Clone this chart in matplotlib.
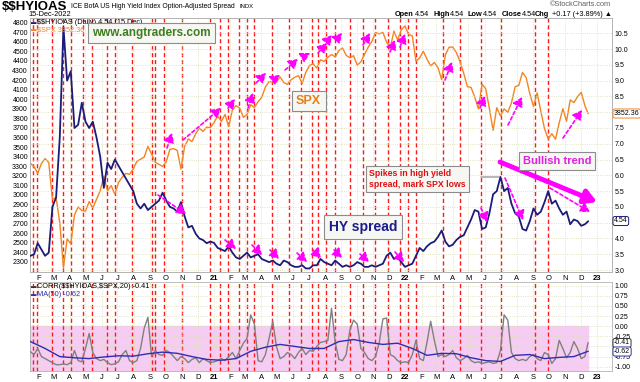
import numpy as np
import pandas as pd
import matplotlib
matplotlib.use("Agg")
import matplotlib.pyplot as plt

plt.rcParams['font.family'] = ['Liberation Sans', 'DejaVu Sans']

W, H = 640, 382

# weekly closes (fridays) from 17-Jan-2020 to 15-Dec-2022
spx = [
    3330, 3295, 3226,                      # jan 2020
    3328, 3380, 3338, 2954,
    2972, 2711, 2240, 2541,
    2489, 2790, 2875, 2837,
    2831, 2930, 2864, 2955, 3044,
    3194, 3041, 3098, 3009,
    3130, 3185, 3225, 3216, 3271,
    3351, 3373, 3397, 3508,
    3427, 3341, 3319, 3298,
    3348, 3477, 3484, 3465, 3270,
    3509, 3585, 3558, 3638,
    3699, 3663, 3709, 3703,
    3756, 3825, 3768, 3841, 3714,          # jan 2021
    3887, 3934, 3907, 3811,
    3842, 3943, 3913, 3975,
    4020, 4129, 4185, 4180, 4181,
    4233, 4174, 4156, 4204,
    4230, 4247, 4166, 4281,
    4352, 4370, 4327, 4412, 4395,
    4437, 4468, 4442, 4509,
    4535, 4459, 4433, 4455,
    4357, 4391, 4471, 4545, 4605,
    4697, 4683, 4698, 4595,
    4538, 4712, 4620, 4726, 4766,
    4677, 4663, 4398, 4432,                # jan 2022
    4501, 4419, 4349, 4385,
    4329, 4204, 4463, 4543,
    4546, 4488, 4393, 4272, 4132,
    4123, 4023, 3901, 4158,
    4109, 3901, 3675, 3912,
    3825, 3899, 3863, 3962, 4130,
    4145, 4280, 4228, 4058,
    3924, 4067, 3873, 3693, 3586,
    3640, 3583, 3753, 3901,
    3771, 3993, 3965, 4026,
    4072, 3934, 3852,
]

hy = [
    3.45, 3.50, 3.85,
    3.65, 3.45, 3.55, 5.00,
    5.30, 7.20, 10.70, 9.00,
    9.30, 7.50, 7.60, 8.30,
    7.70, 7.50, 7.70, 7.20, 6.60,
    5.60, 6.40, 6.20, 6.50,
    6.30, 6.10, 5.90, 5.70, 5.50,
    5.10, 4.95, 5.10, 4.90,
    5.00, 5.10, 5.20, 5.45,
    5.20, 5.00, 4.95, 4.85, 5.15,
    4.70, 4.35, 4.40, 4.15,
    4.00, 3.95, 3.85, 3.90,
    3.86, 3.70, 3.65, 3.60, 3.75,
    3.55, 3.40, 3.35, 3.45,
    3.55, 3.40, 3.45, 3.50,
    3.35, 3.30, 3.25, 3.30, 3.20,
    3.15, 3.30, 3.25, 3.15,
    3.10, 3.10, 3.15, 3.05,
    3.05, 3.15, 3.15, 3.35, 3.25,
    3.20, 3.15, 3.30, 3.20,
    3.10, 3.15, 3.10, 3.15,
    3.25, 3.20, 3.10, 3.10, 3.15,
    3.10, 3.15, 3.20, 3.45,
    3.55, 3.35, 3.40, 3.25, 3.10,
    3.15, 3.20, 3.45, 3.70,
    3.60, 3.75, 3.85, 3.90,
    4.05, 4.25, 3.90, 3.75,
    3.80, 3.95, 4.05, 4.10, 4.35,
    4.60, 4.90, 4.85, 4.30,
    4.35, 4.80, 5.40, 5.50,
    5.95, 5.50, 5.60, 5.10, 4.80,
    4.70, 4.30, 4.25, 4.55,
    4.95, 4.75, 4.85, 5.15, 5.50,
    5.10, 5.20, 4.95, 4.75,
    4.85, 4.45, 4.60, 4.55,
    4.40, 4.45, 4.54,
]

# CORR($$HYIOAS,$SPX,20), same weeks
corr = [
    -0.63, -0.70, -0.55, -0.75, -0.80, -0.85, -0.90, -0.95, -0.95, -0.93,
    -0.95, -0.90, -0.60, -0.85, -0.88, -0.55, -0.18, -0.65, -0.80, -0.85,
    -0.82, -0.90, -0.95, -0.93, -0.88, -0.70, -0.60, -0.85, -0.90, -0.85,
    -0.55, -0.05, 0.22, -0.75, -0.60, -0.70, -0.72, -0.60, -0.65, -0.75,
    -0.85, -0.75, -0.80, -0.90, -0.82, -0.78, -0.90, -0.80, -0.85, -0.90,
    -0.88, -0.85, -0.80, -0.85, -0.75, -0.65, -0.80, -0.60, -0.42, -0.30,
    0.28, 0.05, -0.85, -0.88, -0.70, -0.30, 0.12, -0.50, -0.80, -0.75,
    -0.65, -0.70, -0.80, -0.65, -0.55, -0.70, -0.60, -0.62, -0.50, -0.40,
    -0.38, -0.35, 0.44, -0.40, -0.82, -0.85, -0.70, -0.10, 0.15, 0.05,
    -0.55, -0.65, -0.80, -0.85, -0.75, -0.40, 0.18, 0.20, -0.70, -0.75,
    -0.85, -0.90, -0.88, -0.90, -0.70, -0.35, -0.80, -0.85, -0.40, 0.12,
    -0.35, -0.75, -0.70, -0.75, -0.70, -0.60, -0.78, -0.85, -0.80, -0.72,
    -0.85, -0.90, -0.88, -0.92, -0.90, -0.88, -0.92, -0.90, -0.60, 0.28,
    0.15, -0.65, -0.80, -0.85, -0.82, -0.85, -0.75, -0.70, -0.80, -0.85,
    -0.65, -0.70, -0.92, -0.80, -0.35, -0.55, -0.78, -0.65, -0.38, -0.55,
    -0.80, -0.75, -0.41,
]

# MA(50) of the correlation, read every 4th week
ma50 = [
    -0.38, -0.55, -0.75, -0.78, -0.80, -0.76, -0.73, -0.74, -0.68, -0.64,
    -0.67, -0.75, -0.82, -0.84, -0.80, -0.62, -0.52, -0.45, -0.50, -0.55,
    -0.55, -0.38, -0.33, -0.40, -0.45, -0.42, -0.55, -0.72, -0.67, -0.68,
    -0.78, -0.85, -0.87, -0.72, -0.70, -0.80, -0.77, -0.75, -0.62,
]

red_lines = [
    "2020-01-22", "2020-01-29", "2020-02-27", "2020-03-19", "2020-04-03",
    "2020-04-26", "2020-05-13", "2020-06-11", "2020-06-26", "2020-07-29",
    "2020-09-05", "2020-09-10", "2020-09-28", "2020-11-01", "2020-12-24",
    "2021-01-12", "2021-01-28", "2021-02-18", "2021-03-05", "2021-03-18",
    "2021-04-22", "2021-05-24", "2021-06-16", "2021-07-07", "2021-07-18",
    "2021-08-03", "2021-08-20", "2021-09-17", "2021-10-12", "2021-11-04",
    "2021-11-29", "2021-12-22", "2022-01-05", "2022-01-22", "2022-03-14",
    "2022-04-14", "2022-05-24", "2022-07-03", "2022-09-04", "2022-09-29",
]

dates = pd.date_range("2020-01-17", periods=len(spx), freq="W-FRI")
dates = dates[:-1].append(pd.DatetimeIndex(["2022-12-15"]))
ma_dates = dates[::4]

months = pd.date_range("2020-02-01", "2023-01-01", freq="MS")
month_labels = [str(d.year)[2:] if d.month == 1 else "JFMAMJJASOND"[d.month - 1] for d in months]
xmin, xmax = pd.Timestamp("2020-01-16 06:00"), pd.Timestamp("2023-01-29 16:00")


def fx(x):
    return x / W


def fy(y):
    return 1 - y / H


fig = plt.figure(figsize=(6.4, 3.82), dpi=100)

# ---- main panel ----
ax = fig.add_axes([fx(30), fy(272), 582 / W, 254 / H])
for d in red_lines:
    ax.axvline(pd.Timestamp(d), color="#ff1a1a", lw=1.0, ls=(0, (3, 2)), zorder=1)
ax.plot(dates, spx, color="#f28522", lw=1.0, zorder=3)
ax.set_ylim(2195, 4849)
ax.set_yticks(range(2300, 4801, 100))
ax.set_xlim(xmin, xmax)
ax.set_xticks(months)
ax.set_xticklabels(month_labels)
ax.grid(axis="x", color="#dcdcb4", ls=":", lw=0.6)
ax.tick_params(axis="y", labelsize=5, length=0, pad=1.5)
ax.tick_params(axis="x", labelsize=5.5, length=0, pad=2)

ax2 = ax.twinx()
ax2.plot(dates, hy, color="#1c1c78", lw=1.3, zorder=3)
ax2.set_ylim(2.937, 10.985)
rt = np.arange(3.0, 10.51, 0.5)
ax2.set_yticks(rt)
# 8.0 and 4.5 sit under the last-value tags
ax2.set_yticklabels(["" if v in (8.0, 4.5) else f"{v:.1f}" for v in rt])
ax2.grid(axis="y", color="#dcdcb4", ls=":", lw=0.6)
ax2.tick_params(axis="y", labelsize=5, length=0, pad=2)

# ---- correlation panel ----
ax3 = fig.add_axes([fx(30), fy(371), 582 / W, 89 / H])
ax3.fill_between([dates[0], dates[-1]], -1.2, 0, color="#f6cdf2", zorder=0)
for d in red_lines:
    ax3.axvline(pd.Timestamp(d), color="#ff1a1a", lw=1.0, ls=(0, (3, 2)), zorder=1)
ax3.plot(dates, corr, color="#808080", lw=1.0, zorder=3)
ax3.plot(ma_dates, ma50, color="#2e2eb0", lw=1.0, zorder=4)
ax3.set_ylim(-1.106, 1.09)
ax3.set_xlim(xmin, xmax)
ax3.set_xticks(months)
ax3.set_xticklabels(month_labels)
ax3.yaxis.tick_right()
yt = np.arange(-1.0, 1.01, 0.25)
ax3.set_yticks(yt)
ax3.set_yticklabels(["" if abs(v + 0.5) < 1e-9 else f"{v:.2f}" for v in yt])
ax3.grid(color="#dcdcb4", ls=":", lw=0.6)
ax3.tick_params(axis="y", labelsize=5, length=0, pad=2)
ax3.tick_params(axis="x", labelsize=5.5, length=0, pad=2)

for a in (ax, ax3):
    for lab in a.get_xticklabels():
        if lab.get_text().isdigit():
            lab.set_fontweight("bold")
for a in (ax, ax2, ax3):
    for s in a.spines.values():
        s.set_color("#b4b4b4")
        s.set_linewidth(0.6)

# ---- header texts ----
fig.text(fx(2), fy(7), r"\$\$HYIOAS", fontsize=9.5, weight="bold", va="center")
fig.text(fx(71), fy(6.5), "ICE BofA US High Yield Index Option-Adjusted Spread", fontsize=4.9, va="center")
fig.text(fx(240), fy(6.5), "INDX", fontsize=4.2, va="center")
fig.text(fx(28), fy(15), "15-Dec-2022", fontsize=5.3, va="center")
fig.text(fx(611), fy(5), "©StockCharts.com", fontsize=5.3, color="#606060", ha="right", va="center")
for x, s, bold in [(395, "Open", True), (415, "4.54", False), (433, "High", True), (450, "4.54", False),
                   (467, "Low", True), (483, "4.54", False), (502, "Close", True), (522, "4.54", False),
                   (535, "Chg", True), (552, "+0.17 (+3.89%) ▲", False)]:
    fig.text(fx(x), fy(14), s, fontsize=5.3, weight="bold" if bold else "normal", va="center")

# legends inside panels
fig.text(fx(31), fy(22.5), "▬", fontsize=4, color="#1c1c78", va="center")
fig.text(fx(37), fy(22.5), r"\$\$HYIOAS (Daily) 4.54 (15 Dec)", fontsize=5.3, va="center")
fig.text(fx(31), fy(29.5), "▬", fontsize=4, color="#f28522", va="center")
fig.text(fx(37), fy(29.5), r"\$SPX 3852.36", fontsize=5.3, color="#f28522", va="center")
fig.text(fx(31), fy(287), "▬", fontsize=4, color="#333333", va="center")
fig.text(fx(37), fy(287), r"CORR(\$\$HYIOAS,\$SPX,20) -0.41", fontsize=5.3, va="center")
fig.text(fx(31), fy(295), "▬", fontsize=4, color="#2e2eb0", va="center")
fig.text(fx(37), fy(295), "MA(50) -0.62", fontsize=5.3, color="#2e2eb0", va="center")

# last-value tags on the right axes
for y, s, ec in [(113.5, "3852.36", "#f28522"), (221, "4.54", "#1c1c78"),
                 (343, "-0.41", "#333333"), (351.5, "-0.62", "#2e2eb0")]:
    fig.text(fx(614), fy(y), s, fontsize=5, va="center", zorder=20,
             bbox=dict(boxstyle="round,pad=0.15,rounding_size=0.3", fc="white", ec=ec, lw=0.7))

# ---- text boxes ----
box = dict(boxstyle="square,pad=0.35", fc="#f6f6f2", ec="#8c8c8c", lw=0.8)
fig.text(fx(92), fy(33), "www.angtraders.com", fontsize=8.5, weight="bold", color="#3f7f1f",
         va="center", zorder=15, bbox=box)
fig.text(fx(296), fy(101), "SPX", fontsize=9, weight="bold", color="#e8801a", va="center", zorder=15, bbox=box)
fig.text(fx(329), fy(227), "HY spread", fontsize=10, weight="bold", color="#1c1c8c", va="center", zorder=15, bbox=box)
fig.text(fx(369), fy(179), "Spikes in high yield\nspread, mark SPX lows", fontsize=6.3, weight="bold",
         color="#e01010", va="center", linespacing=1.3, zorder=15, bbox=box)
fig.text(fx(523), fy(161), "Bullish trend", fontsize=8, weight="bold", color="#e020e0", va="center",
         zorder=15, bbox=box)


# ---- arrows (figure pixel positions, y from top) ----
def arrow(x1, y1, x2, y2, lw=1.2, dashed=True, size=9, color="#ff00ff"):
    ax2.annotate("", xy=(x2, H - y2), xytext=(x1, H - y1), xycoords="figure pixels",
                 textcoords="figure pixels", annotation_clip=False,
                 arrowprops=dict(arrowstyle="-|>,head_length=0.6,head_width=0.35", color=color, lw=lw,
                                 ls=(0, (2, 1.5)) if dashed else "-", mutation_scale=size,
                                 shrinkA=0, shrinkB=0))


ax2.annotate("", xy=(502, H - 177), xytext=(478, H - 177), xycoords="figure pixels",
             textcoords="figure pixels", arrowprops=dict(arrowstyle="-", color="#808080", lw=0.8))

spx_arrows = [(167, 148, 172, 133), (183, 140, 221, 108), (228, 108, 235, 99), (248, 108, 253, 93),
              (256, 83, 266, 73), (273, 80, 280, 75), (285, 70, 298, 59), (303, 57, 310, 53),
              (318, 53, 327, 43), (328, 40, 332, 35), (336, 40, 342, 33), (363, 45, 370, 33),
              (390, 52, 395, 40), (400, 47, 405, 34), (445, 80, 452, 62), (480, 108, 485, 96),
              (508, 125, 522, 97), (563, 138, 582, 110)]
hy_arrows = [(158, 195, 186, 214), (225, 240, 236, 249), (252, 245, 262, 255), (270, 250, 279, 259),
             (297, 253, 307, 262), (313, 250, 321, 258), (334, 250, 342, 258), (360, 254, 369, 262),
             (395, 252, 404, 262), (481, 208, 487, 222), (505, 178, 523, 220), (550, 188, 590, 212)]
for a in spx_arrows + hy_arrows:
    arrow(*a)
arrow(500, 162, 597, 202, lw=3.5, dashed=False, size=12)

fig.savefig("out.png", dpi=100)
